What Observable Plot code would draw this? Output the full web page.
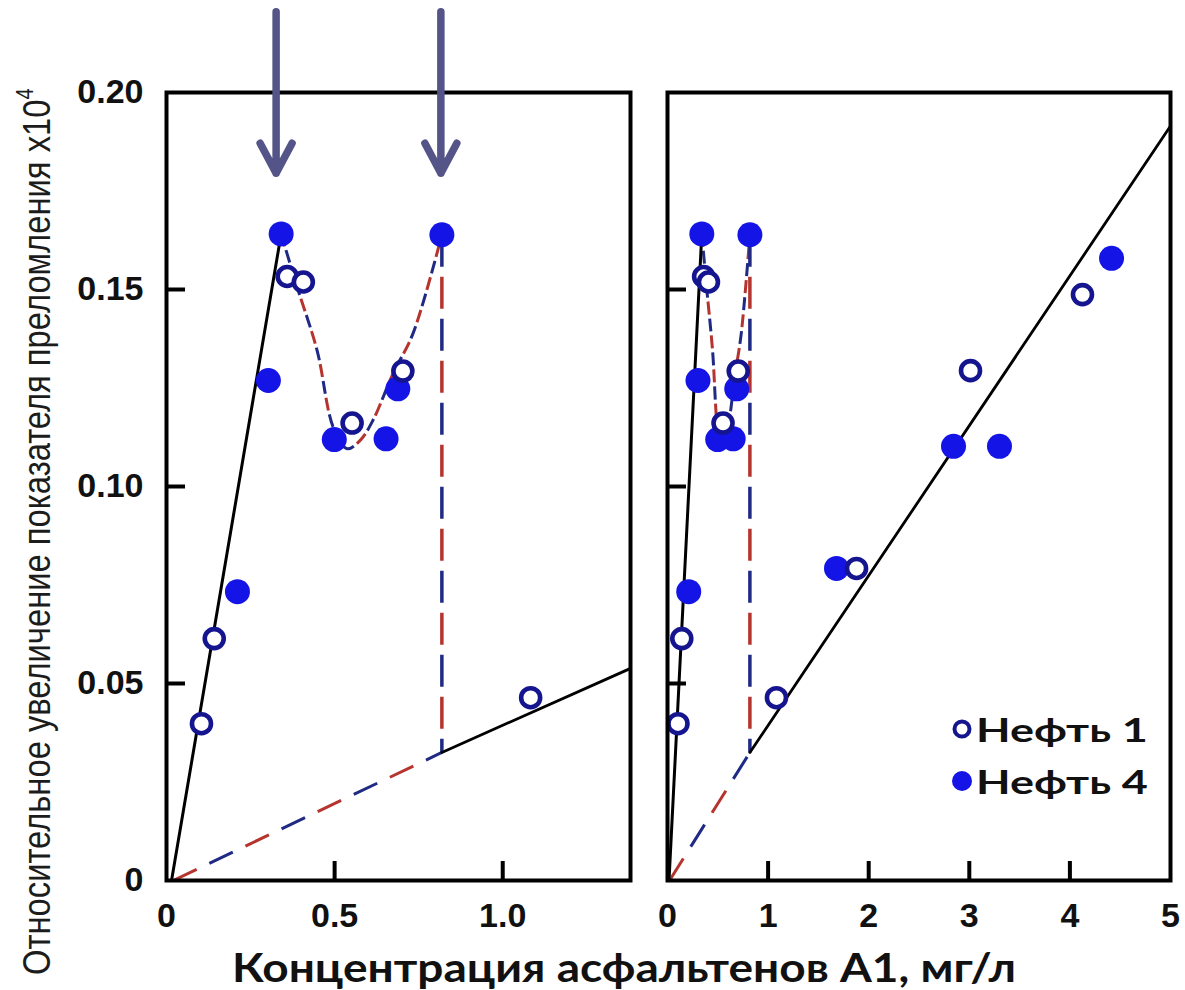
<!DOCTYPE html>
<html lang="ru">
<head>
<meta charset="utf-8">
<script src="https://cdn.jsdelivr.net/npm/d3@7"></script>
<script src="https://cdn.jsdelivr.net/npm/@observablehq/plot@0.6"></script>
<style>
  html, body { margin: 0; background: #fff; }
  #chart { position: relative; width: 1185px; height: 990px; overflow: hidden; background: #fff; }
  #chart svg { position: absolute; top: 0; }
</style>
</head>
<body>
<div id="chart"></div>
<script>
// Нефть 1 (open symbols): concentration, mg/l and relative refractive-index increase ×10^4
const oil1X = [0.104, 0.142, 0.359, 0.407, 0.552, 0.703, 1.083, 1.879, 3.012, 4.125];
const oil1Y = [0.0398, 0.0614, 0.1533, 0.1519, 0.1161, 0.1293, 0.0464, 0.0792, 0.1294, 0.1487];

// Нефть 4 (filled symbols)
const oil4X = [0.211, 0.303, 0.341, 0.499, 0.653, 0.688, 0.819, 1.680, 2.843, 3.300, 4.414];
const oil4Y = [0.0733, 0.1269, 0.1641, 0.1119, 0.1121, 0.1248, 0.1639, 0.0792, 0.1102, 0.1102, 0.1579];

// Initial linear rise up to the first maximum
const riseX = [0.015, 0.341];
const riseY = [0, 0.1641];

// Dip between the two maxima
const dipX = [0.341, 0.389, 0.448, 0.496, 0.537, 0.576, 0.614, 0.674, 0.733, 0.819];
const dipY = [0.1641, 0.1505, 0.1345, 0.115, 0.1096, 0.1117, 0.1168, 0.1287, 0.1388, 0.1639];

// Drop at the second maximum
const dropX = [0.819, 0.819];
const dropY = [0.1639, 0.0325];

// Extrapolated base line (dashed) and the measured trend beyond it (solid)
const baseX = [0.02, 0.819];
const baseY = [0, 0.0325];
const tailX = [0.819, 5];
const tailY = [0.0325, 0.1915];

// Marked concentrations (arrows)
const arrowX = [0.326, 0.816];

// Axes
const yTickValues = [0, 0.05, 0.10, 0.15, 0.20];
const leftXTicks = [0, 0.5, 1.0];
const rightXTicks = [0, 1, 2, 3, 4, 5];

const legendLabels = ["Нефть 1", "Нефть 4"];

const xTitle = "Концентрация асфальтенов А1, мг/л";
const yTitle = "Относительное увеличение показателя преломления x10";

// Colours
const FILL_BLUE = "#1414e6";
const OPEN_BLUE = "#15158f";
const DASH_BLUE = "#1f2a84";
const DASH_RED = "#b5342e";
const ARROW = "#545488";

const toRows = (xs, ys) => xs.map((x, i) => ({x, y: ys[i]}));
const oil1 = toRows(oil1X, oil1Y);
const oil4 = toRows(oil4X, oil4Y);
const rise = toRows(riseX, riseY);
const dip = toRows(dipX, dipY);
const drop = toRows(dropX, dropY);
const base = toRows(baseX, baseY);
const tail = toRows(tailX, tailY);

const H = 920, MT = 92, MB = 40;

// Two dashed lines of the same path, offset so the colours alternate
function twoTone(data, dash, gap, first, second, width = 3) {
  const arr = `${dash},${dash + 2 * gap}`;
  const common = {x: "x", y: "y", strokeWidth: width, strokeDasharray: arr, strokeLinecap: "butt", curve: "catmull-rom", clip: true};
  return [
    Plot.line(data, {...common, stroke: first, strokeDashoffset: 0}),
    Plot.line(data, {...common, stroke: second, strokeDashoffset: dash + gap})
  ];
}

function panel({width, marginLeft, marginRight, xDomain, xTicks, xFormat, yLabels, arrows}) {
  const frameW = width - marginLeft - marginRight;
  const frameH = H - MT - MB;
  const inRange = d => d.x <= xDomain[1];
  const innerX = xTicks.filter(d => d > xDomain[0] && d < xDomain[1]);
  const innerY = yTickValues.filter(d => d > 0 && d < 0.2);
  return Plot.plot({
    width, height: H,
    marginLeft, marginRight, marginTop: MT, marginBottom: MB,
    x: {domain: xDomain, axis: null},
    y: {domain: [0, 0.2], axis: null},
    style: {
      fontFamily: "'Liberation Sans', Arial, sans-serif",
      fontSize: "34px",
      fontWeight: "bold",
      color: "#111",
      background: "transparent",
      overflow: "visible"
    },
    marks: [
      ...twoTone(base, 26, 14, DASH_RED, DASH_BLUE, 3),
      ...twoTone(dip, 13, 4, DASH_RED, DASH_BLUE, 3),
      ...twoTone(drop, 32, 10, DASH_BLUE, DASH_RED, 3.5),
      Plot.line(rise, {x: "x", y: "y", stroke: "#000", strokeWidth: 3, clip: true}),
      Plot.line(tail, {x: "x", y: "y", stroke: "#000", strokeWidth: 2.8, clip: true}),
      Plot.dot(oil4.filter(inRange), {x: "x", y: "y", r: 12.5, fill: FILL_BLUE, stroke: "none"}),
      Plot.dot(oil1.filter(inRange), {x: "x", y: "y", r: 9.5, fill: "white", stroke: OPEN_BLUE, strokeWidth: 4.6}),
      Plot.tickY(innerY, {y: d => d, insetRight: frameW - 19, stroke: "#000", strokeWidth: 4}),
      Plot.tickX(innerX, {x: d => d, insetTop: frameH - 19, stroke: "#000", strokeWidth: 4}),
      Plot.frame({stroke: "#000", strokeWidth: 4}),
      Plot.axisX({ticks: xTicks, tickSize: 0, tickPadding: 22, tickFormat: xFormat, label: null}),
      yLabels ? Plot.axisY({ticks: yTickValues, tickSize: 0, tickPadding: 23, label: null,
        tickFormat: d => d === 0 ? "0" : d.toFixed(2)}) : null,
      arrows ? Plot.arrow(arrowX, {x: d => d, y1: 0.2205, y2: 0.1795, stroke: ARROW, strokeWidth: 7.5,
        headLength: 6.8, headAngle: 56, clip: false}) : null
    ]
  });
}

const chart = document.getElementById("chart");

const left = panel({
  width: 640, marginLeft: 166, marginRight: 10,
  xDomain: [0, 1.38], xTicks: leftXTicks,
  xFormat: d => d === 0 ? "0" : d.toFixed(1),
  yLabels: true, arrows: true
});
left.style.left = "0px";
chart.appendChild(left);

const right = panel({
  width: 545, marginLeft: 27, marginRight: 15,
  xDomain: [0, 5], xTicks: rightXTicks,
  xFormat: d => String(d),
  yLabels: false, arrows: false
});
right.style.left = "640px";
chart.appendChild(right);

// Shared axis titles and the legend
const overlay = d3.create("svg")
  .attr("width", 1185).attr("height", 990)
  .style("left", "0px").style("pointer-events", "none");
chart.appendChild(overlay.node());

// Squeeze or stretch a text horizontally (in its own frame) to a given length
function fitText(sel, x, y, rotate, length) {
  const natural = sel.node().getComputedTextLength();
  const k = natural > 0 ? length / natural : 1;
  sel.attr("transform", `translate(${x},${y}) rotate(${rotate}) scale(${k},1)`);
}

const yt = overlay.append("text")
  .attr("font-family", "'Liberation Sans', Arial, sans-serif")
  .attr("font-size", 39).attr("fill", "#1c1c1c")
  .text(yTitle);
yt.append("tspan").attr("font-size", 24).attr("dy", -17).text("4");
fitText(yt, 50, 975, -90, 887);

const xt = overlay.append("text")
  .attr("font-family", "Lato, 'Open Sans', sans-serif")
  .attr("font-weight", "bold").attr("font-size", 41).attr("fill", "#111")
  .text(xTitle);
fitText(xt, 232, 982, 0, 784);

legendLabels.forEach((label, i) => {
  const cy = 729 + i * 52;
  if (i === 0) {
    overlay.append("circle").attr("cx", 962).attr("cy", cy).attr("r", 7.5)
      .attr("fill", "white").attr("stroke", OPEN_BLUE).attr("stroke-width", 4);
  } else {
    overlay.append("circle").attr("cx", 962).attr("cy", cy).attr("r", 10).attr("fill", FILL_BLUE);
  }
  const t = overlay.append("text")
    .attr("font-family", "Lato, 'Open Sans', sans-serif")
    .attr("font-weight", "bold").attr("font-size", 32).attr("fill", "#111")
    .text(label);
  fitText(t, 976, cy + 13, 0, 172);
});
</script>
</body>
</html>
